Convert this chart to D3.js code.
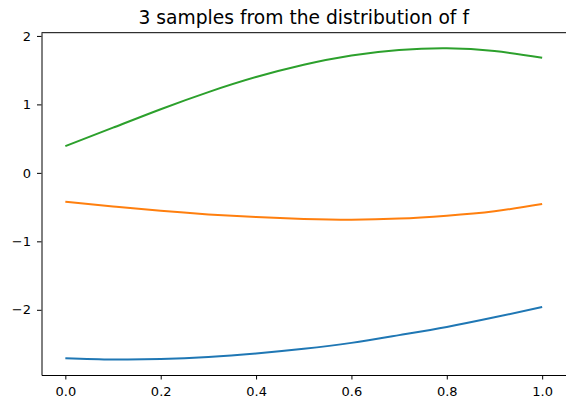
<!DOCTYPE html>
<html>
<head>
<meta charset="utf-8">
<script src="https://cdn.jsdelivr.net/npm/d3@7"></script>
<style>
  body { margin: 0; background: #fff; }
  svg text { font-family: "DejaVu Sans", sans-serif; fill: #000; }
</style>
</head>
<body>
<svg id="chart" width="566" height="399"></svg>
<script>
// sample points along x
var xs = [0, 0.1, 0.2, 0.3, 0.4, 0.5, 0.6, 0.7, 0.8, 0.9, 1.0];

// three samples
var sampleBlue   = [-2.706, -2.725, -2.72, -2.69, -2.638, -2.57, -2.483, -2.37, -2.25, -2.11, -1.96];
var sampleOrange = [-0.423, -0.49, -0.555, -0.607, -0.646, -0.672, -0.683, -0.668, -0.625, -0.56, -0.456];
var sampleGreen  = [0.39, 0.66, 0.93, 1.18, 1.40, 1.58, 1.715, 1.795, 1.82, 1.78, 1.68];

var xTicks = [0, 0.2, 0.4, 0.6, 0.8, 1.0];
var yTicks = [-2, -1, 0, 1, 2];
var title = "3 samples from the distribution of f";

var series = [
  {values: sampleBlue, color: "#1f77b4"},
  {values: sampleOrange, color: "#ff7f0e"},
  {values: sampleGreen, color: "#2ca02c"}
];

// area of the axes
var plotLeft = 41.5, plotRight = 566, plotTop = 32.7, plotBottom = 375;

var svg = d3.select("#chart");

// matplotlib style 5% padding
var xMin = d3.min(xs), xMax = d3.max(xs);
var xPad = (xMax - xMin) * 0.05;
var xScale = d3.scaleLinear()
  .domain([xMin - xPad, xMax + xPad])
  .range([plotLeft, plotRight]);

var all = sampleBlue.concat(sampleOrange, sampleGreen);
var yMin = d3.min(all), yMax = d3.max(all);
var yPad = (yMax - yMin) * 0.05;
var yScale = d3.scaleLinear()
  .domain([yMin - yPad, yMax + yPad])
  .range([plotBottom, plotTop]);

var line = d3.line()
  .x(function(d, i) { return xScale(xs[i]); })
  .y(function(d) { return yScale(d); })
  .curve(d3.curveNatural);

svg.selectAll("path.sample")
  .data(series)
  .enter()
  .append("path")
  .attr("class", "sample")
  .attr("d", function(d) { return line(d.values); })
  .attr("fill", "none")
  .attr("stroke", function(d) { return d.color; })
  .attr("stroke-width", 2);

// assi
var xAxis = svg.append("g")
  .attr("transform", "translate(0," + plotBottom + ")")
  .call(d3.axisBottom(xScale).tickValues(xTicks).tickFormat(d3.format(".1f")).tickSizeInner(4.5).tickSizeOuter(0).tickPadding(7.5));

var yAxis = svg.append("g")
  .attr("transform", "translate(" + plotLeft + ",0)")
  .call(d3.axisLeft(yScale).tickValues(yTicks).tickFormat(function(d) { return d < 0 ? "\u2212" + Math.abs(d) : d; }).tickSizeInner(4.5).tickSizeOuter(0).tickPadding(6));

[xAxis, yAxis].forEach(function(a) {
  a.select(".domain").attr("stroke", "#000").attr("stroke-width", 1);
  a.selectAll(".tick line").attr("stroke", "#000").attr("stroke-width", 1);
  a.selectAll(".tick text").attr("font-size", 13).attr("font-family", "DejaVu Sans");
});

// bordo superiore
svg.append("line")
  .attr("x1", plotLeft).attr("x2", plotRight)
  .attr("y1", plotTop).attr("y2", plotTop)
  .attr("stroke", "#000").attr("stroke-width", 1);

svg.append("text")
  .attr("x", (plotLeft + plotRight) / 2)
  .attr("y", 24)
  .attr("text-anchor", "middle")
  .attr("font-size", 18.7)
  .text(title);
</script>
</body>
</html>
